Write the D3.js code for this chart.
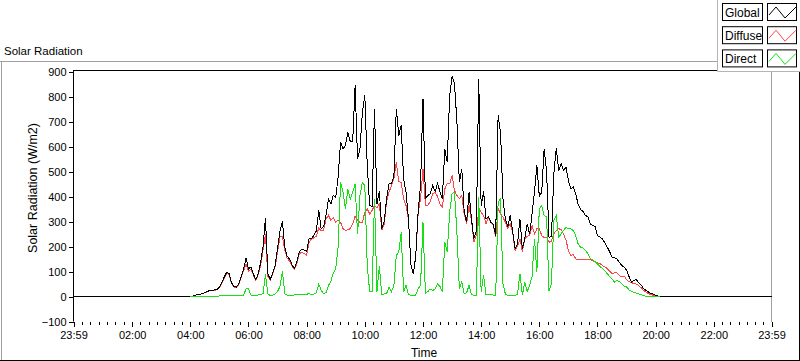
<!DOCTYPE html>
<html>
<head>
<meta charset="utf-8">
<script src="https://cdn.jsdelivr.net/npm/d3@7"></script>
<style>
  body { margin: 0; background: #fff; }
  svg { display: block; font-family: "Liberation Sans", Arial, sans-serif; }
</style>
</head>
<body>
<svg width="800" height="361"></svg>
<script>
// sample times (minutes after midnight), 5 min apart from 04:00 to 20:10
const minutes = d3.range(240, 1215, 5);

const globalRad = [
  0, 2, 5, 7, 9, 12, 16, 20, 24, 25, 26, 28, 38, 55, 78, 97, 92, 55, 40, 37,
  52, 80, 110, 155, 110, 118, 90, 68, 90, 135, 200, 315, 90, 68, 95, 125, 195, 260, 300, 195,
  160, 150, 125, 112, 140, 180, 190, 185, 180, 231, 232, 245, 262, 345, 270, 280, 325, 390, 370, 405,
  395, 480, 617, 591, 604, 657, 620, 620, 845, 551, 591, 737, 804, 524, 364, 360, 751, 370, 420, 271,
  300, 391, 450, 451, 480, 751, 644, 684, 471, 417, 311, 130, 91, 160, 340, 444, 791, 391, 404, 411,
  444, 420, 451, 420, 391, 591, 537, 804, 880, 851, 700, 457, 511, 340, 297, 417, 310, 231, 260, 871,
  364, 420, 311, 320, 297, 290, 244, 724, 657, 390, 311, 280, 324, 260, 190, 210, 311, 190, 231, 290,
  250, 330, 417, 524, 400, 417, 591, 500, 237, 240, 491, 595, 504, 531, 504, 517, 464, 431, 437, 410,
  370, 348, 340, 324, 320, 290, 284, 280, 244, 238, 230, 215, 198, 180, 157, 155, 150, 137, 124, 117,
  106, 80, 58, 64, 68, 55, 46, 32, 24, 18, 13, 9, 5, 2, 0
];

const diffuseRad = [
  0, 2, 5, 7, 9, 12, 15, 19, 23, 24, 25, 27, 36, 52, 74, 92, 88, 52, 38, 35,
  49, 76, 104, 130, 100, 110, 86, 65, 86, 125, 185, 250, 80, 65, 90, 118, 180, 240, 240, 185,
  152, 142, 120, 108, 134, 172, 176, 172, 165, 217, 230, 235, 240, 275, 262, 265, 310, 325, 305, 315,
  297, 305, 297, 271, 264, 268, 271, 290, 322, 305, 297, 297, 337, 351, 330, 345, 364, 355, 370, 265,
  290, 380, 417, 444, 470, 537, 460, 457, 391, 364, 311, 130, 91, 160, 330, 391, 511, 364, 364, 380,
  410, 417, 400, 370, 357, 430, 451, 450, 484, 424, 404, 391, 404, 330, 291, 364, 305, 217, 244, 351,
  337, 324, 291, 317, 297, 285, 237, 351, 331, 317, 297, 272, 290, 257, 184, 200, 231, 180, 231, 240,
  244, 284, 250, 271, 271, 244, 235, 237, 217, 222, 250, 264, 271, 268, 250, 226, 184, 164, 168, 151,
  146, 148, 150, 146, 150, 148, 143, 139, 135, 132, 124, 119, 112, 102, 91, 94, 95, 84, 78, 82,
  68, 59, 56, 51, 50, 44, 35, 25, 18, 12, 8, 5, 2, 1, 0
];

const directRad = [
  0, 0, 0, 0, 0, 1, 1, 1, 1, 2, 2, 2, 2, 3, 4, 5, 5, 4, 4, 3,
  3, 4, 6, 30, 32, 6, 5, 5, 6, 8, 12, 90, 10, 4, 5, 10, 20, 40, 100, 10,
  6, 5, 5, 6, 8, 7, 8, 7, 9, 12, 8, 10, 15, 50, 25, 12, 15, 45, 60, 95,
  110, 200, 457, 417, 351, 430, 390, 417, 450, 250, 404, 457, 444, 124, 20, 20, 391, 20, 120, 8,
  10, 12, 37, 20, 44, 164, 177, 257, 20, 44, 8, 4, 4, 6, 31, 44, 297, 12, 20, 30,
  24, 30, 50, 40, 20, 217, 177, 337, 411, 417, 257, 31, 57, 11, 15, 44, 8, 4, 4, 397,
  20, 84, 8, 10, 10, 6, 4, 377, 391, 50, 10, 4, 4, 4, 4, 10, 91, 6, 57, 20,
  44, 80, 231, 100, 351, 364, 324, 320, 24, 51, 304, 324, 237, 251, 264, 277, 271, 271, 264, 244,
  211, 197, 194, 185, 171, 153, 146, 140, 131, 120, 112, 104, 91, 80, 70, 57, 65, 60, 52, 41,
  38, 27, 20, 17, 13, 10, 8, 4, 1, 0, 0, 0, 0, 0, 0
];

const xTickMinutes = [-1, 120, 240, 360, 480, 600, 720, 840, 960, 1080, 1200, 1320, 1439];
const xTickLabels = ["23:59", "02:00", "04:00", "06:00", "08:00", "10:00", "12:00",
                     "14:00", "16:00", "18:00", "20:00", "22:00", "23:59"];
const yTicks = [-100, 0, 100, 200, 300, 400, 500, 600, 700, 800, 900];

const seriesNames = ["Global", "Diffuse", "Direct"];
const seriesColors = ["#000000", "#ff4545", "#14e014"];

const svg = d3.select("svg");

const x = d3.scaleLinear().domain([-1, 1439]).range([73.5, 771.5]);
const y = d3.scaleLinear().domain([-100, 900]).range([321.5, 71.5]);

// outer frame
svg.append("line").attr("x1", 0).attr("x2", 717).attr("y1", 61.5).attr("y2", 61.5)
  .attr("stroke", "#a0a0a0");
svg.append("line").attr("x1", 1.5).attr("x2", 1.5).attr("y1", 61).attr("y2", 360)
  .attr("stroke", "#a0a0a0");
svg.append("line").attr("x1", 0).attr("x2", 800).attr("y1", 360.5).attr("y2", 360.5)
  .attr("stroke", "#000");
svg.append("line").attr("x1", 799.5).attr("x2", 799.5).attr("y1", 71).attr("y2", 361)
  .attr("stroke", "#000");

svg.append("text").attr("x", 4).attr("y", 55)
  .style("font-size", "11.5px").text("Solar Radiation");

// plot borders
svg.append("line").attr("x1", 73).attr("x2", 772).attr("y1", 70.5).attr("y2", 70.5)
  .attr("stroke", "#000");
svg.append("line").attr("x1", 771.5).attr("x2", 771.5).attr("y1", 70).attr("y2", 322)
  .attr("stroke", "#a0a0a0");

// lines
const line = d3.line().x(d => x(d[0])).y(d => y(d[1]));

const globalPts = [[-1, 0]].concat(minutes.map((m, i) => [m, globalRad[i]]), [[1439, 0]]);
const diffusePts = minutes.map((m, i) => [m, diffuseRad[i]]);
const directPts = minutes.map((m, i) => [m, directRad[i]]);

const drawOrder = [[diffusePts, 1], [globalPts, 0], [directPts, 2]];
drawOrder.forEach(([pts, k]) => {
  svg.append("path")
    .datum(pts)
    .attr("d", line)
    .attr("fill", "none")
    .attr("stroke", seriesColors[k])
    .attr("stroke-width", 1)
    .attr("shape-rendering", "crispEdges");
});

// y axis
const yAxis = svg.append("g")
  .attr("transform", "translate(73.5,0)")
  .call(d3.axisLeft(y).tickValues(yTicks).tickSize(5).tickSizeOuter(0).tickPadding(2));
yAxis.select(".domain").attr("d", "M0,70V321.5");
yAxis.selectAll("text").style("font-size", "11px").style("font-family", "Liberation Sans, Arial, sans-serif")
  .attr("fill", "#000");

// x axis: minor then major ticks
const minorTicks = [];
for (let i = 0; i < xTickMinutes.length - 1; i++) {
  for (let k = 1; k < 7; k++) {
    minorTicks.push(xTickMinutes[i] + (xTickMinutes[i + 1] - xTickMinutes[i]) * k / 7);
  }
}
const xMinor = svg.append("g")
  .attr("transform", "translate(0,322)")
  .call(d3.axisBottom(x).tickValues(minorTicks).tickSize(3).tickFormat(""));
xMinor.select(".domain").remove();

const xAxis = svg.append("g")
  .attr("transform", "translate(0,322)")
  .call(d3.axisBottom(x).tickValues(xTickMinutes).tickSize(5)
    .tickFormat((d, i) => xTickLabels[i]).tickPadding(4));
xAxis.select(".domain").remove();
xAxis.selectAll("text").style("font-size", "11px").style("font-family", "Liberation Sans, Arial, sans-serif")
  .attr("fill", "#000");
svg.selectAll(".tick line").attr("shape-rendering", "crispEdges");

// axis titles
svg.append("text").attr("x", 424).attr("y", 357).attr("text-anchor", "middle")
  .style("font-size", "12px").text("Time");
svg.append("text")
  .attr("transform", "translate(37,188) rotate(-90)")
  .attr("text-anchor", "middle")
  .style("font-size", "12.5px").text("Solar Radiation (W/m2)");

// legend
const legend = svg.append("g");
legend.append("rect").attr("x", 717).attr("y", 0).attr("width", 83).attr("height", 71)
  .attr("fill", "#fff");
legend.append("path").attr("d", "M717.5,0V71.5H800").attr("fill", "none").attr("stroke", "#b4b4b4");

seriesNames.forEach((name, i) => {
  const top = 3 + i * 23.2;
  legend.append("rect").attr("x", 722.5).attr("y", top + 0.5).attr("width", 40).attr("height", 17)
    .attr("fill", "#fff").attr("stroke", "#000");
  legend.append("text").attr("x", 725).attr("y", top + 13.5)
    .style("font-size", "12px").text(name);
  legend.append("rect").attr("x", 767.5).attr("y", top + 0.5).attr("width", 29).attr("height", 17)
    .attr("fill", "#fff").attr("stroke", "#000");
  legend.append("path")
    .attr("d", `M${769},${top + 12}L${776},${top + 4}L${785},${top + 15}L${796},${top + 4}`)
    .attr("fill", "none").attr("stroke", seriesColors[i]);
});
</script>
</body>
</html>
